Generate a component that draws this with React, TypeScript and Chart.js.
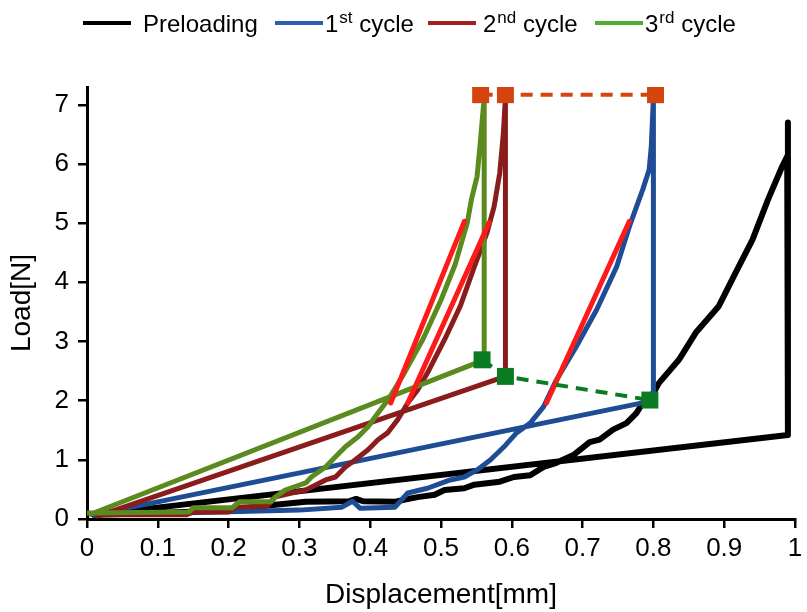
import React, { useEffect, useRef } from "react";
import { Chart, registerables } from "chart.js";

Chart.register(...registerables);

const FONT = "'Liberation Sans', Arial, Helvetica, sans-serif";

// ---- axis ticks ----
const xTicks = [0, 0.1, 0.2, 0.3, 0.4, 0.5, 0.6, 0.7, 0.8, 0.9, 1];
const yTicks = [0, 1, 2, 3, 4, 5, 6, 7];

// ---- series names (legend) ----
const seriesNames = ["Preloading", "1st cycle", "2nd cycle", "3rd cycle"];

// ---- Preloading (black) ----
const preX = [0.01, 0.1, 0.2, 0.266, 0.309, 0.37, 0.38, 0.39, 0.435, 0.449, 0.467, 0.491, 0.505, 0.533, 0.547, 0.583, 0.603, 0.626, 0.645, 0.663, 0.687, 0.71, 0.724, 0.743, 0.762, 0.776, 0.785, 0.8, 0.808, 0.836, 0.86, 0.892, 0.916, 0.94, 0.962, 0.982, 0.989, 0.99, 0.99, 0.01];
const preY = [0.07, 0.1, 0.15, 0.24, 0.29, 0.3, 0.34, 0.3, 0.29, 0.33, 0.37, 0.41, 0.49, 0.52, 0.58, 0.63, 0.71, 0.74, 0.88, 0.95, 1.08, 1.3, 1.34, 1.51, 1.62, 1.79, 1.96, 2.13, 2.3, 2.69, 3.15, 3.59, 4.16, 4.72, 5.4, 5.96, 6.13, 6.7, 1.42, 0.07];

// ---- 1st cycle (blue) ----
const c1X = [0.01, 0.13, 0.3, 0.36, 0.375, 0.386, 0.435, 0.453, 0.481, 0.513, 0.533, 0.551, 0.57, 0.589, 0.607, 0.626, 0.645, 0.663, 0.691, 0.72, 0.748, 0.766, 0.785, 0.794, 0.797, 0.8, 0.8, 0.01];
const c1Y = [0.07, 0.1, 0.15, 0.2, 0.3, 0.18, 0.2, 0.44, 0.52, 0.66, 0.71, 0.83, 1.0, 1.22, 1.46, 1.62, 1.9, 2.35, 2.91, 3.54, 4.26, 4.94, 5.57, 5.9, 6.29, 7.12, 2.0, 0.07];

// ---- 2nd cycle (dark red) ----
const c2X = [0.015, 0.14, 0.15, 0.2, 0.21, 0.255, 0.265, 0.289, 0.309, 0.337, 0.351, 0.365, 0.379, 0.397, 0.411, 0.425, 0.439, 0.453, 0.467, 0.481, 0.505, 0.527, 0.547, 0.565, 0.575, 0.583, 0.588, 0.591, 0.591, 0.015];
const c2Y = [0.07, 0.07, 0.12, 0.12, 0.2, 0.22, 0.37, 0.44, 0.49, 0.66, 0.71, 0.88, 1.0, 1.17, 1.34, 1.46, 1.68, 1.96, 2.18, 2.47, 3.03, 3.59, 4.26, 4.84, 5.28, 5.85, 6.5, 7.12, 2.41, 0.05];

// ---- 3rd cycle (olive green) ----
const c3X = [0.0, 0.144, 0.15, 0.205, 0.215, 0.26, 0.266, 0.28, 0.309, 0.317, 0.337, 0.351, 0.365, 0.383, 0.397, 0.411, 0.425, 0.445, 0.475, 0.5, 0.52, 0.537, 0.543, 0.551, 0.555, 0.561, 0.561, 0.005];
const c3Y = [0.1, 0.12, 0.19, 0.19, 0.29, 0.29, 0.37, 0.49, 0.61, 0.71, 0.88, 1.05, 1.22, 1.39, 1.56, 1.79, 2.01, 2.4, 3.05, 3.7, 4.3, 5.0, 5.4, 5.79, 6.29, 7.12, 2.69, 0.08];

// ---- linear fits 2N..5N (bright red) ----
const fit3X = [0.429, 0.533];
const fit3Y = [1.96, 5.03];
const fit2X = [0.453, 0.568];
const fit2Y = [1.96, 5.01];
const fit1X = [0.649, 0.766];
const fit1Y = [1.96, 5.03];

// ---- peak markers (orange) and end-of-unloading markers (green) ----
const peakX = [0.556, 0.591, 0.803];
const peakY = [7.17, 7.17, 7.17];
const endX = [0.558, 0.591, 0.795];
const endY = [2.69, 2.41, 2.01];

const pts = (xs: number[], ys: number[]) => xs.map((x, i) => ({ x, y: ys[i] }));

const COLORS = {
  pre: "#000000",
  c1: "#1E4C95",
  c2: "#8A1C1C",
  c3: "#5B8A1E",
  fit: "#FF1A1A",
  peak: "#D5430F",
  end: "#0A7B23",
};
const LEGEND_COLORS = ["#000000", "#2C5DB5", "#A31F24", "#4FAE32"];

// legend layout: [sample start x, text start x]
const LEGEND_POS = [
  [83, 143],
  [275, 325],
  [428, 483],
  [595, 645],
];

const splitSup = (s: string) => {
  const m = s.match(/^(\d)(st|nd|rd|th)(.*)$/);
  if (!m) return { main: s, sup: "", rest: "" };
  return { main: m[1], sup: m[2], rest: m[3] };
};

const legendPlugin = {
  id: "supLegend",
  afterDraw(chart: any) {
    const ctx = chart.ctx;
    ctx.save();
    seriesNames.forEach((name, i) => {
      const [sx, tx] = LEGEND_POS[i];
      const ly = 23;
      ctx.strokeStyle = LEGEND_COLORS[i];
      ctx.lineWidth = 4;
      ctx.lineCap = "butt";
      ctx.setLineDash([]);
      ctx.beginPath();
      ctx.moveTo(sx, ly);
      ctx.lineTo(sx + 48, ly);
      ctx.stroke();
      const { main, sup, rest } = splitSup(name);
      ctx.fillStyle = "#000";
      ctx.textAlign = "left";
      ctx.textBaseline = "alphabetic";
      let x = tx;
      ctx.font = `24px ${FONT}`;
      ctx.fillText(main, x, 32);
      x += ctx.measureText(main).width;
      if (sup) {
        ctx.font = `17px ${FONT}`;
        ctx.fillText(sup, x + 1, 23);
        x += ctx.measureText(sup).width + 1;
      }
      if (rest) {
        ctx.font = `24px ${FONT}`;
        ctx.fillText(rest, x, 32);
      }
    });
    ctx.restore();
  },
};

const line = (data: any, color: string, width: number, order: number, extra: any = {}) => ({
  data,
  showLine: true,
  borderColor: color,
  backgroundColor: color,
  borderWidth: width,
  pointRadius: 0,
  pointHoverRadius: 0,
  tension: 0,
  borderJoinStyle: "round",
  borderCapStyle: "round",
  order,
  ...extra,
});

export default function App() {
  const ref = useRef<HTMLCanvasElement | null>(null);

  useEffect(() => {
    if (!ref.current) return;
    const chart = new Chart(ref.current, {
      type: "scatter",
      data: {
        datasets: [
          line(pts(preX, preY), COLORS.pre, 6, 10, { label: seriesNames[0] }),
          line(pts(c1X, c1Y), COLORS.c1, 5, 9, { label: seriesNames[1] }),
          line(pts(c2X, c2Y), COLORS.c2, 5, 8, { label: seriesNames[2] }),
          line(pts(c3X, c3Y), COLORS.c3, 5, 7, { label: seriesNames[3] }),
          line(pts(fit3X, fit3Y), COLORS.fit, 5, 5, { label: "fit3" }),
          line(pts(fit2X, fit2Y), COLORS.fit, 5, 5, { label: "fit2" }),
          line(pts(fit1X, fit1Y), COLORS.fit, 5, 5, { label: "fit1" }),
          line(pts(peakX, peakY), COLORS.peak, 4, 2, {
            label: "peak",
            borderDash: [12, 8],
            borderCapStyle: "butt",
            pointStyle: "rect",
            pointRadius: 12,
            pointBorderWidth: 0,
            pointBackgroundColor: COLORS.peak,
          }),
          line(pts(endX, endY), COLORS.end, 4, 1, {
            label: "end",
            borderDash: [12, 8],
            borderCapStyle: "butt",
            pointStyle: "rect",
            pointRadius: 12,
            pointBorderWidth: 0,
            pointBackgroundColor: COLORS.end,
          }),
        ],
      },
      options: {
        responsive: false,
        animation: false,
        devicePixelRatio: 1,
        layout: { padding: { left: 0, right: 7, top: 87, bottom: 0 } },
        plugins: {
          legend: { display: false },
          tooltip: { enabled: false },
        },
        scales: {
          x: {
            type: "linear",
            min: 0,
            max: 1,
            afterBuildTicks: (s: any) => {
              s.ticks = xTicks.map((v) => ({ value: v }));
            },
            afterFit: (s: any) => {
              s.height = 93;
              s.paddingLeft = 0;
              s.paddingRight = 0;
            },
            ticks: {
              autoSkip: false,
              maxRotation: 0,
              color: "#000",
              font: { size: 26, family: FONT },
              padding: 5,
              callback: (v: any) => String(v),
            },
            grid: {
              display: true,
              drawOnChartArea: false,
              drawTicks: true,
              tickLength: 9,
              color: "#000",
              lineWidth: 2.5,
            },
            border: { display: true, color: "#000", width: 3 },
            title: {
              display: true,
              text: "Displacement[mm]",
              color: "#000",
              font: { size: 28, family: FONT },
              padding: { top: 0, bottom: 0 },
            },
          },
          y: {
            type: "linear",
            min: 0,
            max: 7.3,
            afterBuildTicks: (s: any) => {
              s.ticks = yTicks.map((v) => ({ value: v }));
            },
            afterFit: (s: any) => {
              s.width = 87;
              s.paddingTop = 0;
              s.paddingBottom = 0;
            },
            ticks: {
              color: "#000",
              font: { size: 26, family: FONT },
              padding: 9,
              callback: (v: any) => String(v),
            },
            grid: {
              display: true,
              drawOnChartArea: false,
              drawTicks: true,
              tickLength: 9,
              color: "#000",
              lineWidth: 2.5,
            },
            border: { display: true, color: "#000", width: 3 },
            title: {
              display: true,
              text: "Load[N]",
              color: "#000",
              font: { size: 28, family: FONT },
              padding: { top: 5, bottom: 0 },
            },
          },
        },
      } as any,
      plugins: [legendPlugin],
    });
    return () => chart.destroy();
  }, []);

  return (
    <div style={{ position: "fixed", left: 0, top: 0, width: 807, height: 612, background: "#fff" }}>
      <canvas ref={ref} width={807} height={612} style={{ width: 807, height: 612, display: "block" }} />
    </div>
  );
}
